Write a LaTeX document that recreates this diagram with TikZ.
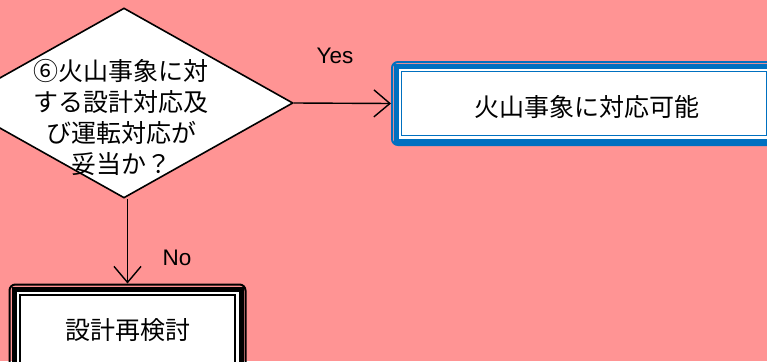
\documentclass[tikz,border=0pt]{standalone}
\usepackage{fontspec}
\setmainfont{Liberation Sans}
\newfontfamily\jp{Noto Sans CJK JP}
\usetikzlibrary{arrows.meta,shapes.geometric}
\definecolor{bgpink}{RGB}{255,148,148}
\definecolor{boxblue}{RGB}{0,112,192}
\begin{document}
\begin{tikzpicture}[x=1pt,y=-1pt,
  jptext/.style={font=\jp\fontsize{25}{31}\selectfont, inner sep=0pt, align=center},
  lbl/.style={font=\fontsize{22.5}{26}\selectfont, inner sep=0pt},
  arr/.style={line width=1.4pt, -{Straight Barb[length=16pt,width=27pt]}},
  outerbox/.style={draw=#1, line width=2pt, rounded corners=6pt, inner sep=0pt}]
\useasboundingbox (0,0) rectangle (767,361);
\clip (0,0) rectangle (767,361);
\fill[bgpink] (0,0) rectangle (767,361);
% decision diamond
\node[diamond, draw=black, line width=1.6pt, fill=white, minimum width=338pt, minimum height=190pt, inner sep=0pt] (q) at (124,103) {};
\node[jptext] (qt) at (121,117) {⑥火山事象に対\\する設計対応及\\び運転対応が\\妥当か？};
% result box (blue)
\node[outerbox=boxblue, minimum width=384pt, minimum height=83pt] (ok) at (584,103.5) {};
\draw[boxblue, line width=5pt, fill=white] ([shift={(5,5)}]ok.north west) rectangle ([shift={(-5,-5)}]ok.south east);
\draw[boxblue, line width=1.6pt] ([shift={(10.5,10.5)}]ok.north west) rectangle ([shift={(-10.5,-10.5)}]ok.south east);
\node[jptext] (okt) at (587,107) {火山事象に対応可能};
% redesign box (black)
\node[outerbox=black, minimum width=236pt, minimum height=96pt] (redo) at (127.5,332.5) {};
\draw[black, line width=5pt, fill=white] ([shift={(5.5,5.5)}]redo.north west) rectangle ([shift={(-5.5,-5.5)}]redo.south east);
\draw[black, line width=1.6pt] ([shift={(11.5,11.5)}]redo.north west) rectangle ([shift={(-11.5,-11.5)}]redo.south east);
\node[jptext] (redot) at (128,330) {設計再検討};
% connectors
\draw[arr] (q.east) -- (ok.west);
\draw[arr] (q.south -| redo.north) -- (redo.north);
\node[lbl] (yes) at (335,56) {Yes};
\node[lbl] (no) at (177,258) {No};
\end{tikzpicture}
\end{document}
